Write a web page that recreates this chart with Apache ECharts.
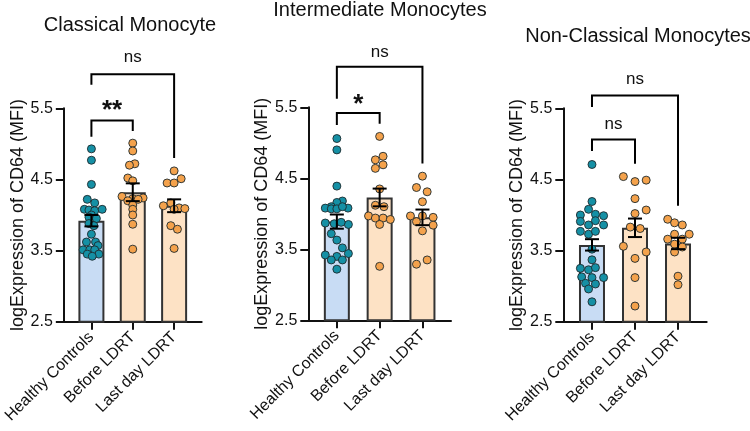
<!DOCTYPE html>
<html>
<head>
<meta charset="utf-8">
<script src="https://cdn.jsdelivr.net/npm/echarts@6/dist/echarts.min.js"></script>
<style>
html,body{margin:0;padding:0;background:#fff;}
#chart{width:750px;height:431px;}
</style>
</head>
<body>
<div id="chart"></div>
<script>
// ---------- data ----------
const categories = ['Healthy Controls', 'Before LDRT', 'Last day LDRT'];
const panelTitles = ['Classical Monocyte', 'Intermediate Monocytes', 'Non-Classical Monocytes'];
const yAxisName = 'logExpression of CD64 (MFI)';
const yTicks = [2.5, 3.5, 4.5, 5.5];

// bar means and SEM
const meanClassical = [3.92, 4.32, 4.13];
const semClassical = [0.08, 0.125, 0.09];
const meanIntermediate = [3.89, 4.23, 3.95];
const semIntermediate = [0.10, 0.125, 0.11];
const meanNonClassical = [3.58, 3.82, 3.60];
const semNonClassical = [0.08, 0.13, 0.08];

// individual points: values and horizontal jitter (category units)
const classicalHC = [4.93, 4.77, 4.43, 4.22, 4.17, 4.08, 4.07, 4.06, 4.08, 4.00, 3.97, 3.95, 3.88, 3.85, 3.73, 3.62, 3.62, 3.57, 3.51, 3.51, 3.51, 3.45, 3.45, 3.42];
const classicalHCJitter = [0, 0, 0, -0.1, 0.08, -0.17, -0.06, 0.08, 0.26, 0, -0.06, 0.12, -0.06, 0.06, 0, -0.12, 0.1, 0.16, -0.2, -0.04, 0.08, 0.18, -0.1, 0.02];
const classicalBefore = [5.01, 4.90, 4.72, 4.70, 4.52, 4.48, 4.26, 4.24, 4.23, 4.22, 4.20, 4.14, 4.08, 4.00, 3.87, 3.52];
const classicalBeforeJitter = [0, 0, 0.05, -0.08, -0.12, 0, -0.26, 0.25, 0, 0.13, -0.12, 0, 0, 0, 0, 0];
const classicalLast = [4.62, 4.51, 4.45, 4.45, 4.17, 4.13, 4.10, 4.09, 4.08, 3.85, 3.80, 3.53];
const classicalLastJitter = [0, 0.17, -0.17, 0, -0.08, -0.26, 0.12, 0.26, 0, -0.08, 0.08, 0];

const intermediateHC = [5.06, 4.90, 4.39, 4.18, 4.16, 4.10, 4.08, 4.07, 4.07, 4.08, 4.10, 3.87, 3.86, 3.85, 3.88, 3.72, 3.63, 3.52, 3.44, 3.42, 3.40, 3.35, 3.35, 3.22];
const intermediateHCJitter = [0, 0, 0, 0.13, 0, -0.13, -0.27, -0.13, 0, 0.26, 0.13, -0.27, -0.06, 0.27, 0.1, -0.13, 0, 0.13, 0.27, -0.27, 0, -0.13, 0.13, 0];
const intermediateBefore = [5.09, 4.81, 4.76, 4.69, 4.64, 4.35, 4.12, 4.10, 3.97, 3.94, 3.94, 3.92, 3.85, 3.26];
const intermediateBeforeJitter = [0, 0.08, -0.1, 0.08, -0.1, 0, -0.1, 0.1, -0.26, -0.1, 0.08, 0.25, 0, 0];
const intermediateLast = [4.53, 4.37, 4.31, 4.17, 3.97, 3.97, 3.95, 3.89, 3.84, 3.76, 3.35, 3.29];
const intermediateLastJitter = [0, -0.14, 0.11, 0, -0.28, 0, 0.25, -0.14, 0.25, 0, 0.11, -0.14];

const nonClassicalHC = [4.71, 4.19, 4.08, 4.00, 4.01, 3.99, 3.91, 3.92, 3.86, 3.86, 3.77, 3.73, 3.77, 3.52, 3.37, 3.25, 3.23, 3.26, 3.13, 3.12, 3.12, 3.04, 3.03, 2.96, 2.78];
const nonClassicalHCJitter = [0, 0, -0.08, -0.27, 0.08, 0.27, -0.27, 0.08, -0.08, 0.27, -0.27, -0.08, 0.08, 0, 0, -0.27, -0.08, 0.08, -0.24, 0, 0.27, -0.15, 0.08, -0.08, 0];
const nonClassicalBefore = [4.54, 4.49, 4.47, 4.23, 4.07, 4.02, 3.83, 3.81, 3.56, 3.48, 3.39, 3.12, 2.72];
const nonClassicalBeforeJitter = [-0.27, 0.26, 0, 0, 0.26, 0, -0.11, 0.12, -0.27, 0.26, 0, 0, 0];
const nonClassicalLast = [3.94, 3.89, 3.86, 3.73, 3.73, 3.66, 3.66, 3.59, 3.55, 3.48, 3.14, 3.02];
const nonClassicalLastJitter = [-0.24, -0.08, 0.1, -0.08, 0.26, -0.24, 0.1, -0.08, 0.1, -0.08, 0, 0];

// significance brackets: [fromCat, toCat, topY, leftLegEndY, rightLegEndY, labelY]
const sigClassical = [[0, 2, 5.98, 5.83, 4.80, 6.21], [0, 1, 5.33, 5.10, 5.18, 5.53]];
const sigClassicalLabels = ['ns', '**'];
const sigIntermediate = [[0, 2, 6.07, 5.62, 4.71, 6.28], [0, 1, 5.42, 5.25, 5.27, 5.60]];
const sigIntermediateLabels = ['ns', '*'];
const sigNonClassical = [[0, 2, 5.68, 5.52, 4.13, 5.91], [0, 1, 5.06, 4.90, 4.72, 5.28]];
const sigNonClassicalLabels = ['ns', 'ns'];

// ---------- build ----------
const FONT = "'Liberation Sans', Arial, sans-serif";
const blueFill = '#c8dcf4', orangeFill = '#fde2c5';
const blueDot = '#1590a5', orangeDot = '#f4a24c';

const panels = [
  {title: panelTitles[0], mean: meanClassical, sem: semClassical,
   pts: [[classicalHC, classicalHCJitter], [classicalBefore, classicalBeforeJitter], [classicalLast, classicalLastJitter]],
   sig: sigClassical, sigLabels: sigClassicalLabels},
  {title: panelTitles[1], mean: meanIntermediate, sem: semIntermediate,
   pts: [[intermediateHC, intermediateHCJitter], [intermediateBefore, intermediateBeforeJitter], [intermediateLast, intermediateLastJitter]],
   sig: sigIntermediate, sigLabels: sigIntermediateLabels},
  {title: panelTitles[2], mean: meanNonClassical, sem: semNonClassical,
   pts: [[nonClassicalHC, nonClassicalHCJitter], [nonClassicalBefore, nonClassicalBeforeJitter], [nonClassicalLast, nonClassicalLastJitter]],
   sig: sigNonClassical, sigLabels: sigNonClassicalLabels}
];

const gridBoxes = [
  {left: 60, top: 108.3, width: 141.7, height: 213.4},
  {left: 308.3, top: 107.3, width: 142.7, height: 213},
  {left: 563.3, top: 108.3, width: 143.4, height: 213.4}
];
const titlePos = [[130, 25], [380, 10], [638, 36]];

const option = {
  backgroundColor: '#fff',
  animation: false,
  grid: gridBoxes.map(g => Object.assign({containLabel: false}, g)),
  xAxis: [], yAxis: [], series: [],
  graphic: panels.map((p, i) => ({
    type: 'text', x: titlePos[i][0], y: titlePos[i][1],
    style: {text: p.title, fontFamily: FONT, fontSize: 20, fill: '#111', align: 'center', verticalAlign: 'middle'}
  }))
};

panels.forEach((p, i) => {
  option.xAxis.push({
    gridIndex: i, type: 'value', min: -0.667, max: 2.667,
    splitLine: {show: false},
    axisLine: {show: true, onZero: false, lineStyle: {color: '#111', width: 2}},
    axisTick: {show: true, customValues: [0, 1, 2], length: 8, lineStyle: {color: '#111', width: 2}},
    axisLabel: {customValues: [0, 1, 2], formatter: v => categories[Math.round(v)] || '',
      rotate: 45, fontSize: 16, fontFamily: FONT, color: '#111', margin: 13}
  });
  option.yAxis.push({
    gridIndex: i, type: 'value', min: 2.5, max: 5.5,
    splitLine: {show: false},
    axisLine: {show: true, onZero: false, lineStyle: {color: '#111', width: 2}},
    axisTick: {show: true, customValues: yTicks, length: 8, lineStyle: {color: '#111', width: 2}},
    axisLabel: {customValues: yTicks, formatter: v => v.toFixed(1), fontSize: 16, fontFamily: FONT, color: '#111', margin: 11},
    name: yAxisName, nameLocation: 'middle', nameGap: 37,
    nameTextStyle: {fontSize: 18, fontFamily: FONT, color: '#111'}
  });
  option.series.push({
    type: 'bar', xAxisIndex: i, yAxisIndex: i, barWidth: 26, z: 2,
    data: p.mean.map((m, j) => ({value: [j, m], itemStyle: {color: j === 0 ? blueFill : orangeFill}})),
    itemStyle: {borderColor: '#333', borderWidth: 2}
  });
  const dots = [];
  p.pts.forEach(([vals, jit], j) => {
    vals.forEach((v, k) => dots.push({value: [j + jit[k], v],
      itemStyle: {color: j === 0 ? blueDot : orangeDot}}));
  });
  option.series.push({
    type: 'scatter', xAxisIndex: i, yAxisIndex: i, symbolSize: 8, z: 3,
    itemStyle: {borderColor: '#1e2a2e', borderWidth: 0.9, opacity: 1},
    data: dots
  });
  option.series.push({
    type: 'custom', xAxisIndex: i, yAxisIndex: i, z: 4, clip: false,
    data: p.mean.map((m, j) => [j, m, p.sem[j]]),
    renderItem: (params, api) => {
      const x = api.value(0), m = api.value(1), s = api.value(2);
      const hi = api.coord([x, m + s]), lo = api.coord([x, m - s]);
      const w = 7;
      const st = {stroke: '#000', lineWidth: 2};
      return {type: 'group', children: [
        {type: 'line', shape: {x1: hi[0], y1: hi[1], x2: lo[0], y2: lo[1]}, style: st},
        {type: 'line', shape: {x1: hi[0] - w, y1: hi[1], x2: hi[0] + w, y2: hi[1]}, style: st},
        {type: 'line', shape: {x1: lo[0] - w, y1: lo[1], x2: lo[0] + w, y2: lo[1]}, style: st}
      ]};
    }
  });
  option.series.push({
    type: 'custom', xAxisIndex: i, yAxisIndex: i, z: 5, clip: false,
    data: p.sig.map(r => r.slice()),
    renderItem: (params, api) => {
      const a = api.value(0), b = api.value(1), top = api.value(2), l = api.value(3), r = api.value(4), ly = api.value(5);
      const p1 = api.coord([a, l]), p2 = api.coord([a, top]), p3 = api.coord([b, top]), p4 = api.coord([b, r]);
      const t = api.coord([(a + b) / 2, ly]);
      const lab = p.sigLabels[params.dataIndex];
      const star = lab.indexOf('*') >= 0;
      return {type: 'group', children: [
        {type: 'polyline', shape: {points: [p1, p2, p3, p4]}, style: {stroke: '#000', lineWidth: 2, fill: null}},
        {type: 'text', x: t[0], y: t[1] + (star ? 5 : 0), style: {text: lab, fontFamily: FONT,
          fontSize: star ? 26 : 17, fontWeight: star ? 'bold' : 'normal', fill: '#111', align: 'center', verticalAlign: 'middle'}}
      ]};
    }
  });
});

const chart = echarts.init(document.getElementById('chart'), null, {renderer: 'canvas'});
chart.setOption(option);
</script>
</body>
</html>
